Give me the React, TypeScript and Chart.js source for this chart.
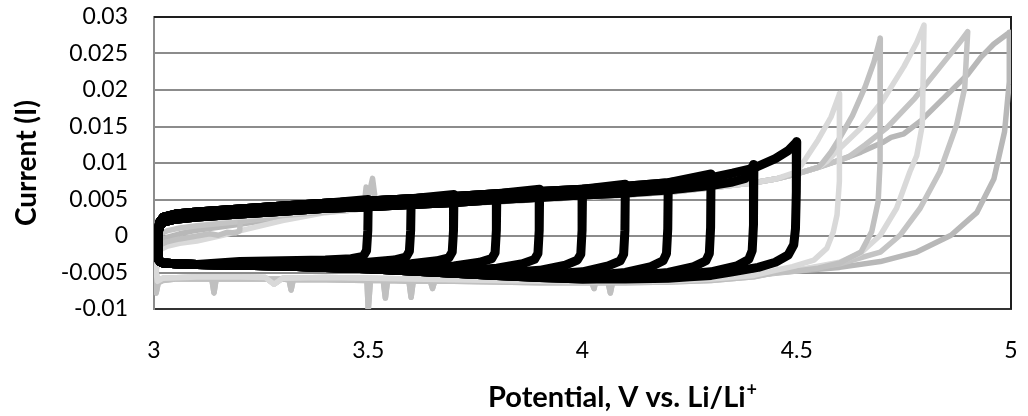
import React, { useEffect, useRef } from "react";
import { Chart, registerables } from "chart.js";

Chart.register(...registerables);

type P = [number, number];

// ---------- axis ticks ----------
const xTickValues = [3, 3.5, 4, 4.5, 5];
const xTickLabels = ["3", "3.5", "4", "4.5", "5"];
const yTickValues = [-0.01, -0.005, 0, 0.005, 0.01, 0.015, 0.02, 0.025, 0.03];
const yTickLabels = ["-0.01", "-0.005", "0", "0.005", "0.01", "0.015", "0.02", "0.025", "0.03"];
const yTitle = "Current (I)";
const xTitleMain = "Potential, V vs. Li/Li";
const xTitleSup = "+";

// ---------- black cycles (upper vertex 3.5 ... 4.5 V) ----------
const blackVertices = [3.5, 3.6, 3.7, 3.8, 3.9, 4.0, 4.1, 4.2, 4.3, 4.4, 4.5];

const blackAnodicA: P[] = [
  [3.01, -0.003], [3.01, 0.001], [3.014, 0.002], [3.022, 0.0026], [3.05, 0.003],
  [3.1, 0.0033], [3.2, 0.0037], [3.3, 0.0041], [3.4, 0.0045], [3.5, 0.0048],
  [3.6, 0.0051], [3.7, 0.0054], [3.8, 0.0058], [3.9, 0.0061], [4.0, 0.0064],
  [4.1, 0.0068], [4.2, 0.0073], [4.3, 0.008], [4.35, 0.0086], [4.4, 0.0093],
  [4.45, 0.0106], [4.48, 0.0117],
];
const blackAnodicB: P[] = [
  [3.01, -0.0032], [3.01, 0.0006], [3.014, 0.0014], [3.022, 0.0019], [3.05, 0.0023],
  [3.1, 0.0026], [3.2, 0.003], [3.3, 0.0034], [3.4, 0.0038], [3.5, 0.004],
  [3.6, 0.0043], [3.7, 0.0046], [3.8, 0.005], [3.9, 0.0053], [4.0, 0.0056],
  [4.1, 0.0059], [4.2, 0.0063], [4.3, 0.0069], [4.35, 0.0074], [4.38, 0.0079],
];
const blackCathodic: P[] = [
  [4.25, -0.0056], [4.2, -0.0058], [4.1, -0.0059], [4.0, -0.0059], [3.9, -0.0057],
  [3.8, -0.0054], [3.7, -0.0051], [3.6, -0.0048], [3.5, -0.0045], [3.4, -0.0043],
  [3.3, -0.0041], [3.2, -0.004], [3.1, -0.0039], [3.05, -0.0038], [3.022, -0.0037],
  [3.014, -0.0035], [3.01, -0.003],
];
const blackTurn35: P[] = [[3.5, 0.005], [3.499, 0.0008], [3.496, -0.002], [3.488, -0.0028], [3.46, -0.0031], [3.4, -0.0033], [3.3, -0.0034], [3.2, -0.0035]];
const blackTurn36: P[] = [[3.6, 0.0046], [3.599, 0.0008], [3.596, -0.0021], [3.588, -0.0029], [3.56, -0.0033], [3.5, -0.0036], [3.4, -0.0038], [3.3, -0.0039]];
const blackTurn37: P[] = [[3.7, 0.0057], [3.699, 0.0008], [3.696, -0.0022], [3.688, -0.003], [3.66, -0.0034], [3.6, -0.0038], [3.5, -0.0041], [3.4, -0.0042]];
const blackTurn38: P[] = [[3.8, 0.0053], [3.799, 0.0008], [3.796, -0.0023], [3.788, -0.0031], [3.76, -0.0036], [3.7, -0.0041], [3.6, -0.0045], [3.5, -0.0045]];
const blackTurn39: P[] = [[3.9, 0.0064], [3.899, 0.0008], [3.896, -0.0024], [3.888, -0.0032], [3.86, -0.0038], [3.8, -0.0044], [3.7, -0.0048], [3.6, -0.0048]];
const blackTurn40: P[] = [[4.0, 0.006], [3.999, 0.0008], [3.996, -0.0025], [3.988, -0.0033], [3.96, -0.004], [3.9, -0.0047], [3.8, -0.0051], [3.7, -0.0051]];
const blackTurn41: P[] = [[4.1, 0.0071], [4.099, 0.0008], [4.096, -0.0025], [4.088, -0.0034], [4.06, -0.0041], [4.0, -0.0049], [3.9, -0.0053], [3.8, -0.0054]];
const blackTurn42: P[] = [[4.2, 0.0067], [4.199, 0.001], [4.196, -0.0024], [4.188, -0.0034], [4.16, -0.0042], [4.1, -0.005], [4.0, -0.0055], [3.9, -0.0056]];
const blackTurn43: P[] = [[4.3, 0.0085], [4.299, 0.0012], [4.296, -0.0024], [4.288, -0.0034], [4.26, -0.0042], [4.2, -0.005], [4.1, -0.0055], [4.0, -0.0058]];
const blackTurn44: P[] = [[4.4, 0.0098], [4.399, 0.0015], [4.396, -0.002], [4.388, -0.0032], [4.36, -0.0041], [4.3, -0.0049], [4.2, -0.0054], [4.1, -0.0057]];
const blackTurn45: P[] = [[4.5, 0.0129], [4.499, 0.006], [4.497, 0.001], [4.493, -0.0012], [4.48, -0.0026], [4.45, -0.0036], [4.41, -0.0043], [4.35, -0.0049], [4.3, -0.0054]];
const blackTurns = [blackTurn35, blackTurn36, blackTurn37, blackTurn38, blackTurn39, blackTurn40, blackTurn41, blackTurn42, blackTurn43, blackTurn44, blackTurn45];

// ---------- grey cycles (upper vertex 4.6 ... 5.0 V) ----------
const grayStart46: P[] = [[3.005, -0.0048], [3.005, 0.0013], [3.015, 0.0018], [3.05, 0.0021], [3.1, 0.0023], [3.2, 0.0026], [3.3, 0.003], [3.4, 0.0034], [3.45, 0.0036]];
const grayStart47: P[] = [[3.005, -0.0055], [3.008, -0.0014], [3.03, -0.0008], [3.06, -0.0004], [3.1, 0.0], [3.13, 0.0003], [3.15, 0.0001], [3.17, 0.0005], [3.19, 0.0004], [3.2, 0.0007], [3.2015, 0.0021], [3.25, 0.0024], [3.3, 0.0028], [3.4, 0.0033], [3.45, 0.0036]];
const grayStart48: P[] = [[3.005, -0.005], [3.008, -0.0021], [3.03, -0.0014], [3.06, -0.001], [3.1, -0.0007], [3.16, 0.0001], [3.2, 0.0007], [3.3, 0.0021], [3.4, 0.0032], [3.45, 0.0035]];
const grayStart49: P[] = [[3.005, -0.0052], [3.008, 0.0001], [3.03, 0.0007], [3.06, 0.0011], [3.1, 0.0014], [3.2, 0.002], [3.3, 0.0027], [3.4, 0.0033], [3.45, 0.0035]];
const grayStart50: P[] = [[3.005, -0.005], [3.008, -0.0008], [3.03, -0.0002], [3.06, 0.0003], [3.1, 0.0008], [3.2, 0.0016], [3.3, 0.0025], [3.4, 0.0033], [3.45, 0.0035]];

const grayMidA: P[] = [
  [3.49, 0.0038], [3.495, 0.0067], [3.5, 0.0052], [3.51, 0.0079], [3.518, 0.0043],
  [3.6, 0.0041], [3.7, 0.0044], [3.8, 0.0047], [3.9, 0.005], [4.0, 0.0053],
  [4.1, 0.0056], [4.2, 0.006], [4.3, 0.0066], [4.4, 0.0073], [4.45, 0.0078],
  [4.5, 0.0085], [4.55, 0.0094], [4.6, 0.0104], [4.65, 0.0115], [4.7, 0.0128], [4.72, 0.0135],
];
const grayMidB: P[] = [
  [3.5, 0.0038], [3.6, 0.0041], [3.7, 0.0044], [3.8, 0.0047], [3.9, 0.005], [4.0, 0.0053],
  [4.1, 0.0056], [4.2, 0.006], [4.3, 0.0066], [4.4, 0.0073], [4.45, 0.0078],
  [4.5, 0.0085], [4.55, 0.0094], [4.6, 0.0104], [4.65, 0.0115], [4.7, 0.0128], [4.72, 0.0135],
];

const grayHigh46: P[] = [[4.5, 0.0088], [4.52, 0.0105], [4.55, 0.0132], [4.58, 0.0163], [4.6, 0.0195]];
const grayTurn46: P[] = [[4.5995, 0.0075], [4.594, 0.0029], [4.585, 0.0005], [4.57, -0.0017], [4.54, -0.0033], [4.49, -0.0042], [4.45, -0.0047]];
const grayHigh47: P[] = [[4.56, 0.01], [4.58, 0.0115], [4.6, 0.0134], [4.63, 0.0165], [4.66, 0.0205], [4.68, 0.0238], [4.695, 0.0271]];
const grayTurn47: P[] = [[4.6945, 0.0102], [4.69, 0.0047], [4.675, 0.0006], [4.65, -0.0022], [4.6, -0.0037], [4.55, -0.0044], [4.5, -0.0048], [4.45, -0.005]];
const grayHigh48: P[] = [[4.57, 0.0102], [4.6, 0.012], [4.65, 0.0148], [4.7, 0.0185], [4.75, 0.0232], [4.78, 0.0265], [4.797, 0.0289]];
const grayTurn48: P[] = [[4.793, 0.0152], [4.78, 0.011], [4.764, 0.0088], [4.733, 0.0038], [4.695, 0.0001], [4.65, -0.0023], [4.6, -0.0036], [4.5, -0.0047], [4.45, -0.005]];
const grayHigh49: P[] = [[4.62, 0.0108], [4.66, 0.0125], [4.71, 0.0148], [4.776, 0.0189], [4.85, 0.0243], [4.88, 0.0265], [4.899, 0.028]];
const grayTurn49: P[] = [[4.892, 0.0203], [4.873, 0.0152], [4.834, 0.0088], [4.788, 0.0038], [4.741, 0.0001], [4.695, -0.0022], [4.6, -0.0038], [4.5, -0.0047], [4.45, -0.005]];
const grayHigh50: P[] = [[4.75, 0.014], [4.79, 0.0158], [4.85, 0.0193], [4.9, 0.0222], [4.93, 0.0245], [4.96, 0.0263], [4.997, 0.0279]];
const grayTurn50: P[] = [[4.996, 0.0211], [4.985, 0.0143], [4.96, 0.0078], [4.92, 0.0032], [4.86, 0.0001], [4.78, -0.0022], [4.695, -0.0035], [4.6, -0.0043], [4.5, -0.0048], [4.45, -0.0051]];

const grayCathA: P[] = [
  [4.4, -0.0056], [4.3, -0.0061], [4.2, -0.0063], [4.1, -0.0064], [4.07, -0.0064], [4.065, -0.0078],
  [4.06, -0.0064], [4.03, -0.0064], [4.027, -0.0072], [4.022, -0.0064], [3.9, -0.0064], [3.8, -0.0063],
  [3.7, -0.0062], [3.655, -0.0062], [3.65, -0.0072], [3.645, -0.0062], [3.605, -0.0062], [3.6, -0.0084],
  [3.595, -0.0062], [3.545, -0.0061], [3.54, -0.0085], [3.535, -0.0061], [3.505, -0.0061], [3.5, -0.0101],
  [3.497, -0.0061], [3.4, -0.006], [3.325, -0.006], [3.32, -0.0074], [3.315, -0.006], [3.3, -0.0059],
  [3.2, -0.0059], [3.145, -0.0059], [3.14, -0.0078], [3.135, -0.0059], [3.05, -0.0059], [3.02, -0.0061],
  [3.01, -0.0064], [3.005, -0.0078], [3.005, -0.0055],
];
const grayCathB: P[] = [
  [4.4, -0.0054], [4.3, -0.0059], [4.2, -0.0062], [4.0, -0.0063], [3.8, -0.0061], [3.6, -0.0059],
  [3.4, -0.0057], [3.3, -0.0058], [3.28, -0.0066], [3.26, -0.0057], [3.2, -0.0056], [3.1, -0.0056],
  [3.02, -0.0058], [3.008, -0.0062], [3.005, -0.005],
];

const grayCycles = [
  { start: grayStart46, mid: grayMidB, high: grayHigh46, turn: grayTurn46, cath: grayCathB, color: "#d9d9d9" },
  { start: grayStart47, mid: grayMidA, high: grayHigh47, turn: grayTurn47, cath: grayCathA, color: "#c0c0c0" },
  { start: grayStart48, mid: grayMidB, high: grayHigh48, turn: grayTurn48, cath: grayCathB, color: "#d9d9d9" },
  { start: grayStart49, mid: grayMidB, high: grayHigh49, turn: grayTurn49, cath: grayCathA, color: "#c4c4c4" },
  { start: grayStart50, mid: grayMidB, high: grayHigh50, turn: grayTurn50, cath: grayCathB, color: "#b8b8b8" },
];

// ---------- assembly ----------
const FONT = "Lato, 'Open Sans', sans-serif";
const TARGET = { left: 154, top: 17, right: 1011, bottom: 309 };
const toXY = (pts: P[]) => pts.map(([x, y]) => ({ x, y }));
const last = (pts: P[]) => pts[pts.length - 1][0];

function blackLoop(i: number): P[] {
  const v = blackVertices[i];
  const anodic = (i % 2 === 0 ? blackAnodicA : blackAnodicB).filter((p) => p[0] < v);
  const turn = blackTurns[i];
  const cath = blackCathodic.filter((p) => p[0] < last(turn));
  return [...anodic, ...turn, ...cath];
}

function grayLoop(c: (typeof grayCycles)[number]): P[] {
  const mid = c.mid.filter((p) => p[0] > last(c.start) && p[0] < c.high[0][0]);
  const cath = c.cath.filter((p) => p[0] < last(c.turn));
  return [...c.start, ...mid, ...c.high, ...c.turn, ...cath];
}

const lineBase = {
  showLine: true,
  pointRadius: 0,
  pointHoverRadius: 0,
  fill: false,
  tension: 0,
  borderJoinStyle: "round" as const,
  borderCapStyle: "round" as const,
};

const framePlugin = {
  id: "frame",
  beforeDatasetsDraw(chart: any) {
    const { ctx, chartArea: a } = chart;
    ctx.save();
    ctx.strokeStyle = "#1e1e1e";
    ctx.lineWidth = 2;
    ctx.beginPath();
    ctx.moveTo(a.left, a.top);
    ctx.lineTo(a.right, a.top);
    ctx.lineTo(a.right, a.bottom);
    ctx.stroke();
    ctx.restore();
  },
};

const xTitlePlugin = {
  id: "xTitleSup",
  afterDraw(chart: any) {
    const ctx = chart.ctx as CanvasRenderingContext2D;
    ctx.save();
    ctx.fillStyle = "#000";
    ctx.textBaseline = "alphabetic";
    ctx.textAlign = "left";
    const size = 29;
    const supSize = 18;
    ctx.font = `bold ${size}px ${FONT}`;
    const w1 = ctx.measureText(xTitleMain).width;
    ctx.font = `bold ${supSize}px ${FONT}`;
    const w2 = ctx.measureText(xTitleSup).width;
    const cx = 622;
    const base = 407;
    const x0 = cx - (w1 + w2) / 2;
    ctx.font = `bold ${size}px ${FONT}`;
    ctx.fillText(xTitleMain, x0, base);
    ctx.font = `bold ${supSize}px ${FONT}`;
    ctx.fillText(xTitleSup, x0 + w1 + 1, base - 11);
    ctx.restore();
  },
};

export default function App() {
  const ref = useRef<HTMLCanvasElement>(null);

  useEffect(() => {
    if (!ref.current) return;
    const datasets: any[] = [];
    blackVertices.forEach((v, i) => {
      datasets.push({
        ...lineBase,
        label: `${v} V`,
        data: toXY(blackLoop(i)),
        borderColor: "#000000",
        borderWidth: 9,
        order: 0,
      });
    });
    grayCycles.forEach((c, i) => {
      datasets.push({
        ...lineBase,
        label: `grey ${i}`,
        data: toXY(grayLoop(c)),
        borderColor: c.color,
        borderWidth: 5.5,
        order: 1,
      });
    });

    const padding = { left: 0, top: 17, right: 17, bottom: 0 };
    const options: any = {
      animation: false,
      responsive: true,
      maintainAspectRatio: false,
      events: [],
      layout: { autoPadding: false, padding: { ...padding } },
      plugins: { legend: { display: false }, tooltip: { enabled: false } },
      scales: {
        x: {
          type: "linear",
          min: 3,
          max: 5,
          afterBuildTicks: (s: any) => {
            s.ticks = xTickValues.map((value) => ({ value }));
          },
          afterFit: (s: any) => {
            s.height = 416 - TARGET.bottom;
            s.paddingLeft = 0;
            s.paddingRight = 0;
          },
          ticks: {
            callback: (_v: any, i: number) => xTickLabels[i],
            font: { family: FONT, size: 23 },
            color: "#000",
            padding: 28,
            maxRotation: 0,
          },
          grid: { display: false, drawTicks: false },
          border: { display: true, color: "#333333", width: 2 },
        },
        y: {
          type: "linear",
          min: -0.01,
          max: 0.03,
          afterBuildTicks: (s: any) => {
            s.ticks = yTickValues.map((value) => ({ value }));
          },
          afterFit: (s: any) => {
            s.width = TARGET.left;
            s.paddingTop = 0;
            s.paddingBottom = 0;
          },
          ticks: {
            callback: (_v: any, i: number) => yTickLabels[i],
            font: { family: FONT, size: 23 },
            color: "#000",
            padding: 26,
          },
          grid: { color: "#8c8c8c", lineWidth: 2, drawTicks: false },
          border: { display: true, color: "#8c8c8c", width: 2 },
          title: {
            display: true,
            text: yTitle,
            font: { family: FONT, size: 28, weight: "bold" },
            color: "#000",
            padding: { top: 10, bottom: 0 },
          },
        },
      },
    };

    const chart = new Chart(ref.current, {
      type: "scatter",
      data: { datasets },
      plugins: [framePlugin, xTitlePlugin],
      options,
    });

    // nudge the layout padding so the plot area lands where the reference has it
    for (let k = 0; k < 8; k++) {
      const a = chart.chartArea;
      if (!a) break;
      const dt = TARGET.top - a.top;
      const dr = a.right - TARGET.right;
      if (Math.abs(dt) < 0.5 && Math.abs(dr) < 0.5) break;
      padding.top += dt;
      padding.right += dr;
      (chart.config.options as any).layout = { autoPadding: false, padding: { ...padding } };
      chart.update();
    }

    return () => chart.destroy();
  }, []);

  return (
    <div style={{ position: "fixed", left: 0, top: 0, width: 1028, height: 416, background: "#fff" }}>
      <canvas ref={ref} style={{ display: "block" }} />
    </div>
  );
}
